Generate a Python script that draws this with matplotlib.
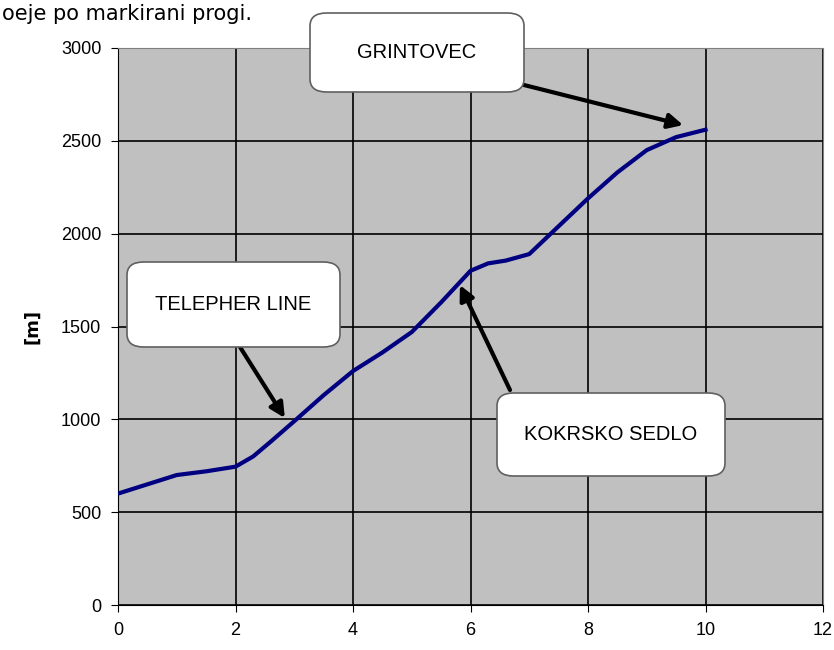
import matplotlib
matplotlib.use('Agg')
import matplotlib.pyplot as plt
from matplotlib.patches import FancyBboxPatch

# distance [km] vs. altitude [m]
dist = [0, 0.5, 1, 1.5, 2, 2.3, 2.6, 3, 3.5, 4, 4.5, 5, 5.5, 6, 6.3, 6.6, 7, 7.5, 8, 8.5, 9, 9.5, 10]
alt = [600, 650, 700, 720, 745, 800, 880, 990, 1130, 1260, 1360, 1470, 1630, 1800, 1840, 1855, 1890, 2040, 2190, 2330, 2450, 2520, 2560]

xticks = [0, 2, 4, 6, 8, 10, 12]
yticks = [0, 500, 1000, 1500, 2000, 2500, 3000]

# label text, arrow tip (data), box (left, top, right, bottom in px from top-left), arrow start (px)
labels = ['GRINTOVEC', 'TELEPHER LINE', 'KOKRSKO SEDLO']
tips = [(9.62, 2585), (2.84, 1007), (5.82, 1723)]
boxes = [(310, 13, 524, 92), (127, 262, 340, 347), (497, 393, 725, 476)]
starts = [(524, 85), (240, 347), (510, 390)]

W, H = 834, 650
fig = plt.figure(figsize=(W / 100, H / 100), dpi=100)
ax = fig.add_axes([118 / W, 1 - 605 / H, (823 - 118) / W, (605 - 48) / H])
plt.rcParams['font.family'] = ['Liberation Sans', 'DejaVu Sans']

ax.set_facecolor('#c0c0c0')
ax.plot(dist, alt, color='#000080', lw=3, zorder=3)
ax.set_xlim(0, 12)
ax.set_ylim(0, 3000)
ax.set_xticks(xticks)
ax.set_yticks(yticks)
ax.tick_params(labelsize=13, length=5, color='black', pad=7)
for lab in ax.get_xticklabels() + ax.get_yticklabels():
  lab.set_family('Liberation Sans')
ax.grid(True, color='black', lw=1.2)
ax.set_axisbelow(True)
for s in ['top', 'right']:
  ax.spines[s].set_color('#808080')
for s in ['left', 'bottom']:
  ax.spines[s].set_color('black')
ax.set_ylabel('[m]', fontweight='bold', fontsize=13, labelpad=14)

# callout boxes
for lab, (l, t, r, b) in zip(labels, boxes):
  p = FancyBboxPatch((l / W, 1 - b / H), (r - l) / W, (b - t) / H,
                     boxstyle='round,pad=0,rounding_size=0.02',
                     transform=fig.transFigure, facecolor='white',
                     edgecolor='#606060', lw=1.2, zorder=5)
  fig.patches.append(p)
  fig.text((l + r) / 2 / W, 1 - (t + b) / 2 / H, lab, ha='center', va='center',
           fontsize=14.5, family='Liberation Sans', zorder=6)

for (tx, ty), (sx, sy) in zip(tips, starts):
  ax.annotate('', xy=(tx, ty), xycoords='data',
              xytext=(sx, H - sy), textcoords='figure pixels',
              arrowprops=dict(arrowstyle='-|>', color='black', lw=3,
                              mutation_scale=22, shrinkA=0, shrinkB=0),
              annotation_clip=False, zorder=7)

# caption line at the top of the picture
fig.text(0.002, 1 - 20 / H, 'oeje po markirani progi.', fontsize=15,
         family='DejaVu Sans', ha='left', va='baseline')

fig.savefig('out.png', dpi=100)
